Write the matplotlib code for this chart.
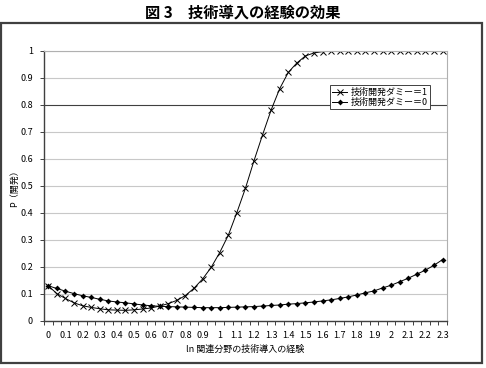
import numpy as np
import matplotlib
matplotlib.use("Agg")
import matplotlib.pyplot as plt
from matplotlib.patches import Rectangle
from matplotlib.ticker import MultipleLocator, FixedLocator

plt.rcParams['font.family'] = ['Noto Sans CJK JP', 'DejaVu Sans']

# ln experience, one point every 0.05
x = [0.00, 0.05, 0.10, 0.15, 0.20, 0.25, 0.30, 0.35, 0.40, 0.45,
     0.50, 0.55, 0.60, 0.65, 0.70, 0.75, 0.80, 0.85, 0.90, 0.95,
     1.00, 1.05, 1.10, 1.15, 1.20, 1.25, 1.30, 1.35, 1.40, 1.45,
     1.50, 1.55, 1.60, 1.65, 1.70, 1.75, 1.80, 1.85, 1.90, 1.95,
     2.00, 2.05, 2.10, 2.15, 2.20, 2.25, 2.30]

p_dummy1 = [0.130, 0.101, 0.083, 0.067, 0.056, 0.050, 0.045, 0.041, 0.040, 0.039,
            0.041, 0.044, 0.048, 0.055, 0.064, 0.076, 0.094, 0.121, 0.155, 0.198,
            0.253, 0.317, 0.401, 0.491, 0.593, 0.689, 0.781, 0.860, 0.920, 0.955,
            0.981, 0.992, 0.997, 0.999, 1.000, 1.000, 1.000, 1.000, 1.000, 1.000,
            1.000, 1.000, 1.000, 1.000, 1.000, 1.000, 1.000]

p_dummy0 = [0.130, 0.120, 0.110, 0.101, 0.093, 0.087, 0.080, 0.074, 0.070, 0.067,
            0.063, 0.059, 0.056, 0.054, 0.053, 0.052, 0.051, 0.050, 0.049, 0.049,
            0.049, 0.050, 0.051, 0.052, 0.053, 0.055, 0.057, 0.059, 0.062, 0.064,
            0.067, 0.070, 0.074, 0.078, 0.083, 0.089, 0.096, 0.104, 0.111, 0.122,
            0.132, 0.145, 0.158, 0.173, 0.188, 0.206, 0.227]

xtick_labels = ["0", "0.1", "0.2", "0.3", "0.4", "0.5", "0.6", "0.7", "0.8", "0.9",
                "1", "1.1", "1.2", "1.3", "1.4", "1.5", "1.6", "1.7", "1.8", "1.9",
                "2", "2.1", "2.2", "2.3"]
yticks = [0, 0.1, 0.2, 0.3, 0.4, 0.5, 0.6, 0.7, 0.8, 0.9, 1]
ytick_labels = ["0", "0.1", "0.2", "0.3", "0.4", "0.5", "0.6", "0.7", "0.8", "0.9", "1"]

fig = plt.figure(figsize=(4.86, 3.68), dpi=100)
fig.patches.append(Rectangle((0.003, 0.014), 0.988, 0.923, transform=fig.transFigure,
                             fill=False, edgecolor="#404040", linewidth=1.6))
fig.text(0.5, 0.965, "図 3　技術導入の経験の効果", ha="center", va="center",
         fontsize=11, fontweight="bold")

ax = fig.add_axes([0.0905, 0.128, 0.829, 0.734])
ax.plot(x, p_dummy1, color="black", lw=0.7, marker="x", ms=4, mew=0.7,
        label="技術開発ダミー＝1")
ax.plot(x, p_dummy0, color="black", lw=0.7, marker="D", ms=3, mew=0,
        label="技術開発ダミー＝0")

ax.set_xlim(-0.025, 2.325)
ax.set_ylim(0, 1)
ax.xaxis.set_major_locator(FixedLocator(np.arange(len(xtick_labels)) * 0.1))
ax.set_xticklabels(xtick_labels)
ax.xaxis.set_minor_locator(MultipleLocator(0.05, offset=0.025))
ax.yaxis.set_major_locator(FixedLocator(yticks))
ax.set_yticklabels(ytick_labels)
ax.tick_params(axis="x", which="major", length=0, labelsize=6.5, pad=7)
ax.tick_params(axis="x", which="minor", length=3, width=0.7, color="#404040")
ax.tick_params(axis="y", length=3, width=0.7, labelsize=6.5, color="#404040", pad=5)

ax.grid(axis="y", color="#c8c8c8", lw=0.8)
for val, gl in zip(yticks, ax.yaxis.get_gridlines()):
    if abs(val - 0.8) < 1e-6:
        gl.set_color("#404040")
ax.set_axisbelow(True)

for s in ["top", "right"]:
    ax.spines[s].set_color("#b0b0b0")
    ax.spines[s].set_linewidth(0.8)
for s in ["left", "bottom"]:
    ax.spines[s].set_color("#404040")
    ax.spines[s].set_linewidth(1.0)

ax.set_xlabel("ln 関連分野の技術導入の経験", fontsize=6.5, labelpad=4)
ax.set_ylabel("P（開発）", fontsize=6.5)
ax.yaxis.set_label_coords(-0.062, 0.5)

leg = ax.legend(loc="upper left", bbox_to_anchor=(0.71, 0.872), fontsize=6.5,
                fancybox=False, framealpha=1, edgecolor="#404040",
                handlelength=1.6, borderpad=0.25, labelspacing=0.15,
                handletextpad=0.4, borderaxespad=0)
leg.get_frame().set_linewidth(0.7)

fig.savefig("out.png", dpi=100)
